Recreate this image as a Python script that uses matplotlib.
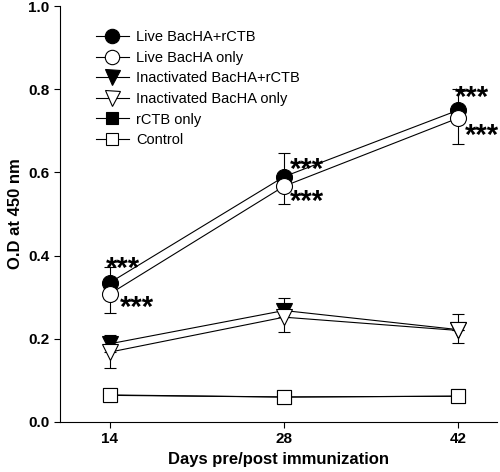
import matplotlib
matplotlib.use('Agg')
import matplotlib.pyplot as plt

plt.rcParams['font.family'] = ['Liberation Sans', 'DejaVu Sans']

days = [14, 28, 42]
groups = ['Live BacHA+rCTB', 'Live BacHA only', 'Inactivated BacHA+rCTB',
          'Inactivated BacHA only', 'rCTB only', 'Control']
live_combo = [0.335, 0.590, 0.750]
live_combo_err = [0.038, 0.058, 0.050]
live_only = [0.308, 0.567, 0.731]
live_only_err = [0.047, 0.042, 0.062]
inact_combo = [0.188, 0.268, 0.222]
inact_combo_err = [0.020, 0.030, 0.037]
inact_only = [0.168, 0.252, 0.220]
inact_only_err = [0.038, 0.036, 0.030]
rctb_only = [0.064, 0.060, 0.062]
control = [0.065, 0.060, 0.062]

# significance marks: (day position, O.D position)
star_x = [15.06, 16.2, 29.84, 29.84, 43.1, 43.9]
star_y = [0.385, 0.293, 0.625, 0.546, 0.797, 0.706]

series = [
    (live_combo, live_combo_err, 'o', 'black', 'up', 11.5),
    (live_only, live_only_err, 'o', 'white', 'down', 11.5),
    (inact_combo, inact_combo_err, 'v', 'black', 'up', 12),
    (inact_only, inact_only_err, 'v', 'white', 'down', 12),
    (rctb_only, None, 's', 'black', None, 10),
    (control, None, 's', 'white', None, 10),
]

fig = plt.figure(figsize=(5.0, 4.72), dpi=100)
ax = fig.add_axes([0.12, 0.106, 0.874, 0.881])

handles = []
for (vals, err, mk, fc, side, ms), name in zip(series, groups):
    if err is not None:
        if side == 'up':
            yerr = [[0] * len(err), err]
        else:
            yerr = [err, [0] * len(err)]
        ax.errorbar(days, vals, yerr=yerr, fmt='none', ecolor='black',
                    elinewidth=0.8, capsize=4, capthick=0.8, zorder=2)
    h, = ax.plot(days, vals, color='black', linewidth=0.8, marker=mk,
                 markersize=ms, markerfacecolor=fc, markeredgecolor='black',
                 markeredgewidth=0.8, label=name, zorder=3)
    handles.append(h)

# asterisks sit high in the em box, so anchor them a bit lower
for sx, sy in zip(star_x, star_y):
    ax.text(sx, sy - 0.018, '***', ha='center', va='center', fontsize=21,
            fontweight='bold')

ax.set_xlim(10, 45.1)
ax.set_ylim(0, 1.0)
ax.set_xticks(days)
ax.set_yticks([0.0, 0.2, 0.4, 0.6, 0.8, 1.0])
ax.set_yticklabels(['0.0', '0.2', '0.4', '0.6', '0.8', '1.0'])
for lbl in ax.get_xticklabels() + ax.get_yticklabels():
    lbl.set_fontweight('bold')
    lbl.set_fontsize(11)
ax.tick_params(direction='out', length=4, width=0.8)
ax.spines['top'].set_visible(False)
ax.spines['right'].set_visible(False)
ax.spines['left'].set_linewidth(0.8)
ax.spines['bottom'].set_linewidth(0.8)
ax.set_xlabel('Days pre/post immunization', fontsize=12, fontweight='bold')
ax.set_ylabel('O.D at 450 nm', fontsize=12, fontweight='bold')

ax.legend(handles=handles, loc='upper left', bbox_to_anchor=(0.07, 0.956),
          frameon=False, fontsize=10.5, handlelength=2.2, handletextpad=0.5,
          labelspacing=0.45, borderaxespad=0, markerscale=0.9)

fig.savefig('out.png', dpi=100, facecolor='white')
